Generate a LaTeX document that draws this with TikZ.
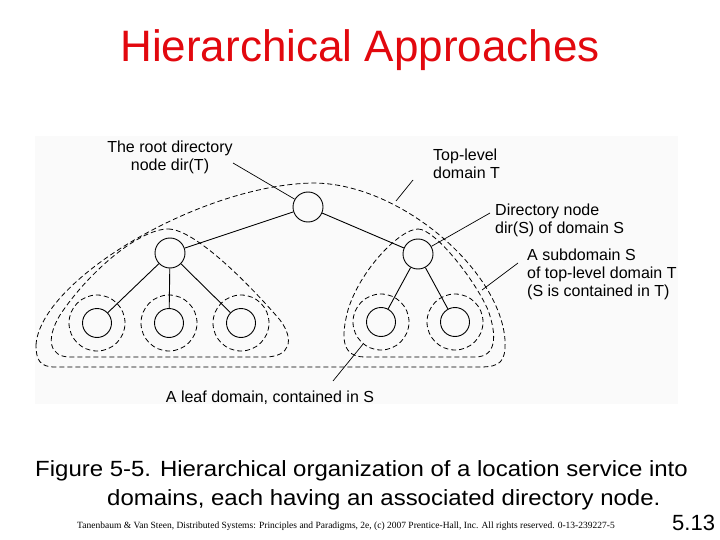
\documentclass[tikz,border=0pt]{standalone}
\usepackage{fontspec}
\setmainfont{Liberation Sans}
\newfontfamily\footfont{Liberation Serif}
\definecolor{titlered}{RGB}{226,8,14}
\definecolor{bgpanel}{RGB}{250,250,250}
\begin{document}
\begin{tikzpicture}[x=1pt,y=-1pt,
  dirnode/.style={circle,draw,line width=0.9pt,minimum size=30pt,inner sep=0pt},
  leafnode/.style={circle,draw,line width=0.9pt,minimum size=29pt,inner sep=0pt},
  leafdom/.style={circle,draw,line width=0.8pt,dash pattern=on 5pt off 3pt,minimum size=56pt,inner sep=0pt},
  domline/.style={line width=0.8pt,dash pattern=on 5pt off 3pt},
  link/.style={line width=0.9pt},
  leader/.style={line width=0.7pt},
  lbl/.style={font=\fontsize{16}{18}\selectfont,inner sep=0pt}]
\useasboundingbox (0,0) rectangle (720,540);
\fill[bgpanel] (35,136) rectangle (678,404);

% title
\node[anchor=base,text=titlered,font=\fontsize{44}{50}\selectfont,inner sep=0pt] (title) at (360,62) {Hierarchical Approaches};

% domains
\draw[domline] (36,345) .. controls (40,280) and (200,185) .. (313,183)
  .. controls (400,183) and (500,270) .. (505,340)
  .. controls (506,362) and (500,367) .. (480,367) -- (55,367)
  .. controls (40,367) and (36,360) .. (36,345) -- cycle;
\draw[domline] (168,229) .. controls (195,229) and (250,285) .. (280,320)
  .. controls (295,340) and (290,357) .. (265,357) -- (70,357)
  .. controls (50,357) and (45,340) .. (60,315)
  .. controls (90,270) and (140,229) .. (168,229) -- cycle;
\draw[domline] (418,229) .. controls (435,229) and (475,280) .. (488,310)
  .. controls (497,335) and (497,357) .. (475,357) -- (365,357)
  .. controls (343,357) and (340,340) .. (348,310)
  .. controls (360,270) and (400,229) .. (418,229) -- cycle;

% directory nodes
\node[dirnode] (root) at (308,207) {};
\node[dirnode] (SL) at (170,253) {};
\node[dirnode] (SR) at (418,254) {};
\node[leafnode] (L1) at (97,323) {};
\node[leafnode] (L2) at (169,323) {};
\node[leafnode] (L3) at (241,323) {};
\node[leafnode] (R1) at (381,322) {};
\node[leafnode] (R2) at (455,322) {};
\node[leafdom] (DL1) at (97,323) {};
\node[leafdom] (DL2) at (169,323) {};
\node[leafdom] (DL3) at (241,323) {};
\node[leafdom] (DR1) at (381,322) {};
\node[leafdom] (DR2) at (455,322) {};

\draw[link] (root) -- (SL);
\draw[link] (root) -- (SR);
\draw[link] (SL) -- (L1);
\draw[link] (SL) -- (L2);
\draw[link] (SL) -- (L3);
\draw[link] (SR) -- (R1);
\draw[link] (SR) -- (R2);

% labels
\node[lbl,anchor=north,align=center] (rootlbl) at (170,141) {The root directory\\node dir(T)};
\node[lbl,anchor=north west,align=left] (toplbl) at (433,149) {Top-level\\domain T};
\node[lbl,anchor=north west,align=left] (dirlbl) at (495,204) {Directory node\\dir(S) of domain S};
\node[lbl,anchor=north west,align=left] (sublbl) at (527,249) {A subdomain S\\of top-level domain T\\(S is contained in T)};
\node[lbl,anchor=north] (leaflbl) at (270,391) {A leaf domain, contained in S};

% leaders
\coordinate (rootlead) at (233,163);
\coordinate (toplead) at (413,180);
\coordinate (topend) at (396,201);
\coordinate (dirlead) at (490,213);
\coordinate (sublead) at (518,263);
\coordinate (subend) at (482,290);
\coordinate (leaflead) at (333,381);
\draw[leader] (rootlead) -- (root);
\draw[leader] (toplead) -- (topend);
\draw[leader] (dirlead) -- (SR);
\draw[leader] (sublead) -- (subend);
\draw[leader] (leaflead) -- (DR1);

% caption
\node[anchor=base west,font=\fontsize{22}{26}\selectfont,inner sep=0pt] (cap1) at (35,476) {\scalebox{1.09}[1]{Figure 5-5. Hierarchical organization of a location service into}};
\node[anchor=base west,font=\fontsize{22}{26}\selectfont,inner sep=0pt] (cap2) at (107,505) {\scalebox{1.09}[1]{domains, each having an associated directory node.}};
\node[anchor=base west,font=\footfont\fontsize{9.5}{11}\selectfont,inner sep=0pt] (foot) at (77,528) {Tanenbaum \& Van Steen, Distributed Systems: Principles and Paradigms, 2e, (c) 2007 Prentice-Hall, Inc. All rights reserved. 0-13-239227-5};
\node[anchor=base west,font=\fontsize{22}{26}\selectfont,inner sep=0pt] (pnum) at (672,530) {5.13};
\end{tikzpicture}
\end{document}
